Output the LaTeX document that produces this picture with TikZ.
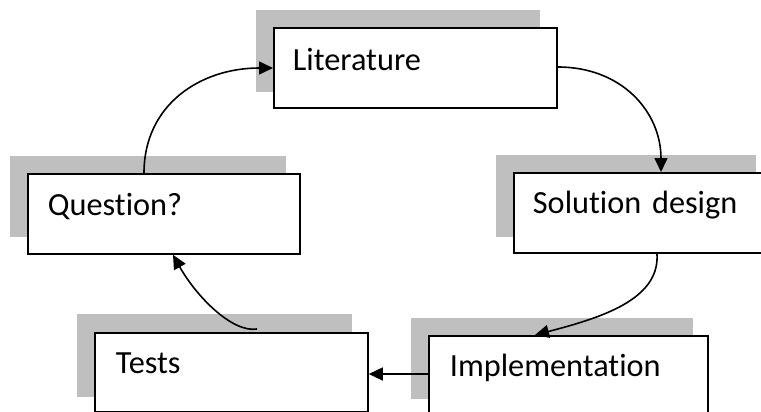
\documentclass[tikz,border=0pt]{standalone}
\usepackage{fontspec}
\setmainfont{Carlito}[Ligatures={NoCommon,NoContextual}]
\usetikzlibrary{arrows.meta}
\definecolor{shade}{RGB}{191,191,191}
\begin{document}
\begin{tikzpicture}[x=1pt,y=-1pt,
  shadowbox/.style={fill=shade,draw=none},
  stepbox/.style={draw=black,line width=1.8pt,fill=white,rectangle,anchor=north west,
    align=left,inner ysep=0pt,font=\fontsize{32.3}{37}\selectfont},
  arr/.style={line width=1.6pt,-{Triangle[length=14pt,width=13pt]}}]
\useasboundingbox (0,0) rectangle (761,412);
% shadows
\fill[shadowbox] (256,10) rectangle (540,92);
\fill[shadowbox] (10,156) rectangle (286,237);
\fill[shadowbox] (496,155) rectangle (756,237);
\fill[shadowbox] (77,314) rectangle (352,397);
\fill[shadowbox] (411,318) rectangle (693,399);
% boxes
\node[stepbox,inner xsep=19pt,text width=245pt,text height=43pt,text depth=37pt] (lit) at (273,27) {Literature};
\node[stepbox,inner xsep=20pt,text width=232pt,text height=42pt,text depth=38pt] (q) at (27,173) {Question?};
\node[stepbox,inner xsep=19pt,text width=222pt,text height=41pt,text depth=39pt] (sol) at (513,172) {Solution design};
\node[stepbox,inner xsep=21pt,text width=231pt,text height=41pt,text depth=38pt] (tests) at (94,332) {Tests};
\node[stepbox,inner xsep=21pt,text width=237pt,text height=41pt,text depth=39pt] (impl) at (428,335) {Implementation};
% connectors
\draw[arr] ([xshift=117pt]q.north west) .. controls (144,105) and (200,68) .. ([yshift=-41pt]lit.north west);
\draw[arr] ([yshift=-40pt]lit.north east) .. controls (622,67) and (661,112) .. ([xshift=148pt]sol.north west);
\draw[arr] ([xshift=144pt]sol.south west) .. controls (660,300) and (600,318) .. ([xshift=107pt]impl.north west);
\draw[arr] ([xshift=163pt,yshift=3pt]tests.north west) .. controls (232,333) and (196,296) .. ([xshift=146pt]q.south west);
\draw[arr] ([yshift=-39pt]impl.north west) coordinate (s) -- (tests.east |- s);
\end{tikzpicture}
\end{document}
